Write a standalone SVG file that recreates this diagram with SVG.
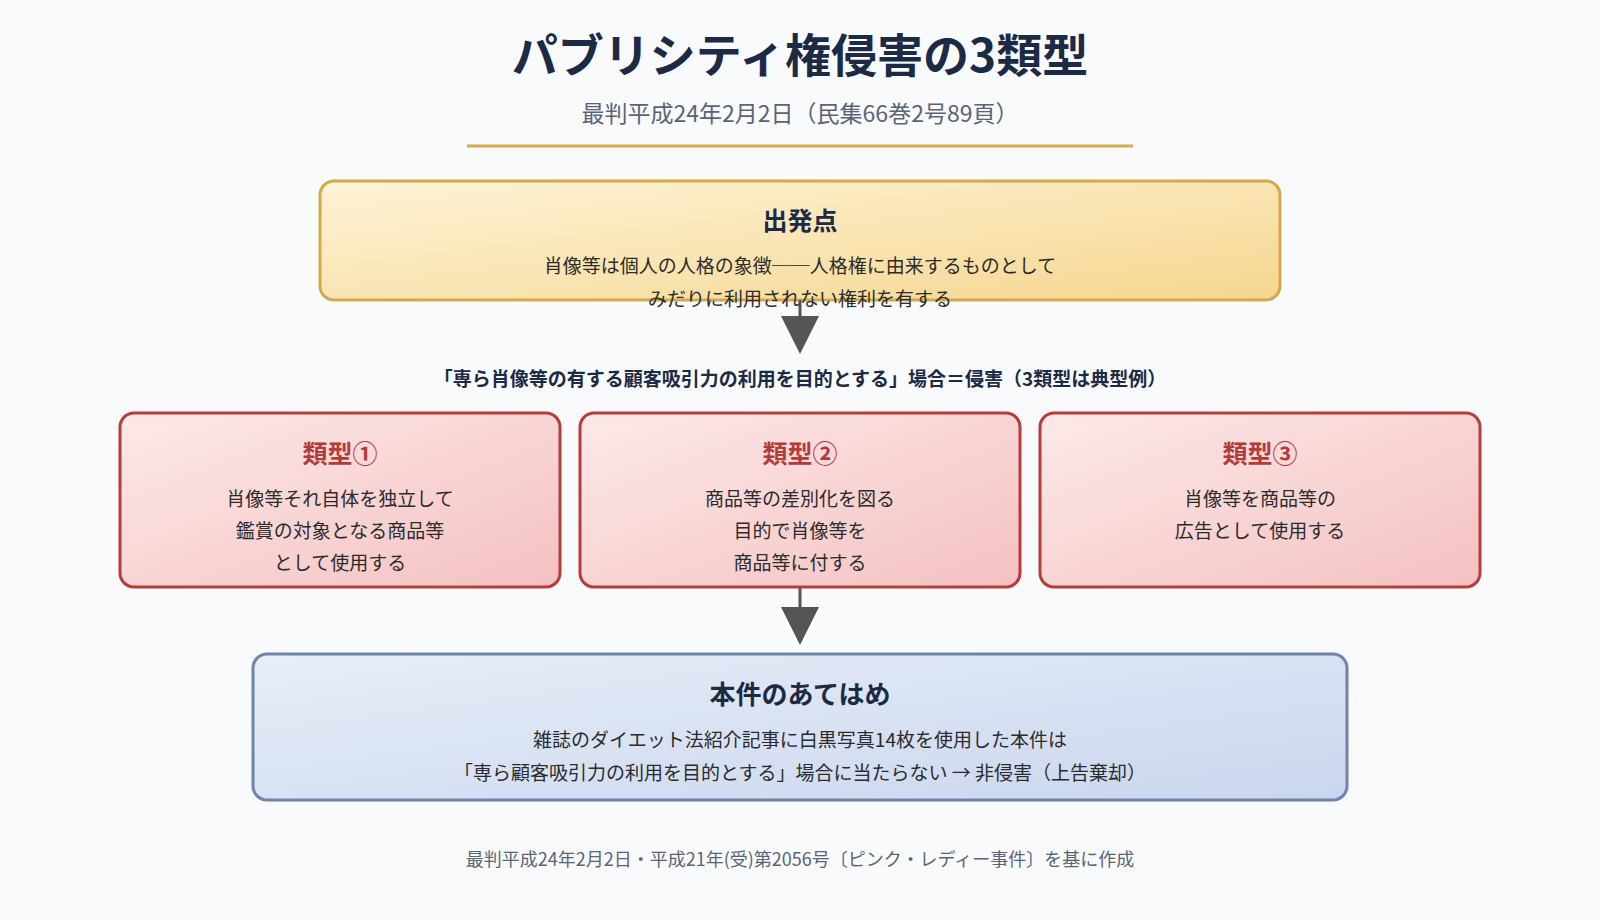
<svg xmlns="http://www.w3.org/2000/svg" width="1600" height="920" viewBox="0 0 1600 920">
<defs>
<linearGradient id="gGold" x1="0" y1="0" x2="1" y2="1"><stop offset="0" stop-color="#fef3d8"/><stop offset="1" stop-color="#f5d690"/></linearGradient>
<linearGradient id="gPink" x1="0" y1="0" x2="1" y2="1"><stop offset="0" stop-color="#fde9e9"/><stop offset="1" stop-color="#f4c1c1"/></linearGradient>
<linearGradient id="gBlue" x1="0" y1="0" x2="1" y2="1"><stop offset="0" stop-color="#e8eef8"/><stop offset="1" stop-color="#c9d6ee"/></linearGradient>
</defs>
<style>
text{font-family:"Noto Sans CJK JP","Noto Sans",sans-serif;text-anchor:middle}
.h{font-weight:700;fill:#1c2a45}
.b{font-size:19px;fill:#2b2b2b}
.r{font-size:25px;font-weight:700;fill:#b53a3a}
.pk{fill:url(#gPink);stroke:#b83c3c;stroke-width:3}
.ar{stroke:#555;stroke-width:3}
</style>
<rect width="1600" height="920" fill="#f8fafc"/>
<text class="h" x="800" y="72" font-size="46">パブリシティ権侵害の3類型</text>
<text x="800" y="122" font-size="23" fill="#5a6478">最判平成24年2月2日（民集66巻2号89頁）</text>
<line x1="467" y1="146" x2="1133" y2="146" stroke="#d4aa4a" stroke-width="3"/>
<g id="start">
<rect x="320" y="181" width="960" height="119" rx="14" fill="url(#gGold)" stroke="#d4a94a" stroke-width="3"/>
<text class="h" x="800" y="230" font-size="25">出発点</text>
<text class="b" x="800" y="273">肖像等は個人の人格の象徴──人格権に由来するものとして</text>
<text class="b" x="800" y="306">みだりに利用されない権利を有する</text>
</g>
<g id="connectors">
<line class="ar" x1="800" y1="300" x2="800" y2="318"/>
<polygon points="781,316 819,316 800,354" fill="#555"/>
<line class="ar" x1="800" y1="587" x2="800" y2="609"/>
<polygon points="781,607 819,607 800,645" fill="#555"/>
</g>
<text class="h" x="800" y="386" font-size="19">「専ら肖像等の有する顧客吸引力の利用を目的とする」場合＝侵害（3類型は典型例）</text>
<g id="type1">
<rect class="pk" x="120" y="413" width="440" height="174" rx="14"/>
<text class="r" x="340" y="463">類型①</text>
<text class="b" x="340" y="506">肖像等それ自体を独立して</text>
<text class="b" x="340" y="538">鑑賞の対象となる商品等</text>
<text class="b" x="340" y="570">として使用する</text>
</g>
<g id="type2">
<rect class="pk" x="580" y="413" width="440" height="174" rx="14"/>
<text class="r" x="800" y="463">類型②</text>
<text class="b" x="800" y="506">商品等の差別化を図る</text>
<text class="b" x="800" y="538">目的で肖像等を</text>
<text class="b" x="800" y="570">商品等に付する</text>
</g>
<g id="type3">
<rect class="pk" x="1040" y="413" width="440" height="174" rx="14"/>
<text class="r" x="1260" y="463">類型③</text>
<text class="b" x="1260" y="506">肖像等を商品等の</text>
<text class="b" x="1260" y="538">広告として使用する</text>
</g>
<g id="apply">
<rect x="253" y="654" width="1094" height="146" rx="14" fill="url(#gBlue)" stroke="#6f84ad" stroke-width="3"/>
<text class="h" x="800" y="704" font-size="26">本件のあてはめ</text>
<text class="b" x="800" y="747">雑誌のダイエット法紹介記事に白黒写真14枚を使用した本件は</text>
<text class="b" x="800" y="780">「専ら顧客吸引力の利用を目的とする」場合に当たらない → 非侵害（上告棄却）</text>
</g>
<text x="800" y="866" font-size="18" fill="#5a6478">最判平成24年2月2日・平成21年(受)第2056号〔ピンク・レディー事件〕を基に作成</text>
</svg>
